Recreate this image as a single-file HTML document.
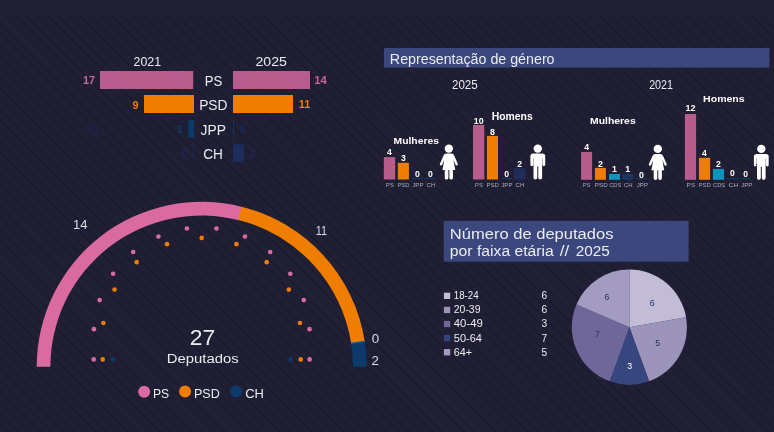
<!DOCTYPE html>
<html lang="pt"><head><meta charset="utf-8"><title>Deputados</title>
<style>
html,body{margin:0;padding:0;background:#211f33;}
body{width:774px;height:432px;overflow:hidden;font-family:"Liberation Sans", "DejaVu Sans", sans-serif;}
svg{display:block;position:absolute;left:0;top:0;}
text{white-space:pre;}
</style></head><body>
<svg width="774" height="432" viewBox="0 0 774 432" font-family='"Liberation Sans", "DejaVu Sans", sans-serif'>
<path d="M-458.42 0L-26.42 432M-450.43 0L-18.43 432M-442.44 0L-10.44 432M-434.45 0L-2.45 432M-426.46 0L5.54 432M-418.47 0L13.53 432M-410.48 0L21.52 432M-402.49 0L29.51 432M-394.50 0L37.50 432M-386.51 0L45.49 432M-378.52 0L53.48 432M-370.53 0L61.47 432M-362.54 0L69.46 432M-354.55 0L77.45 432M-346.56 0L85.44 432M-338.57 0L93.43 432M-330.58 0L101.42 432M-322.59 0L109.41 432M-314.60 0L117.40 432M-306.61 0L125.39 432M-298.62 0L133.38 432M-290.63 0L141.37 432M-282.64 0L149.36 432M-274.65 0L157.35 432M-266.66 0L165.34 432M-258.67 0L173.33 432M-250.68 0L181.32 432M-242.69 0L189.31 432M-234.70 0L197.30 432M-226.71 0L205.29 432M-218.72 0L213.28 432M-210.73 0L221.27 432M-202.74 0L229.26 432M-194.75 0L237.25 432M-186.76 0L245.24 432M-178.77 0L253.23 432M-170.78 0L261.22 432M-162.79 0L269.21 432M-154.80 0L277.20 432M-146.81 0L285.19 432M-138.82 0L293.18 432M-130.83 0L301.17 432M-122.84 0L309.16 432M-114.85 0L317.15 432M-106.86 0L325.14 432M-98.87 0L333.13 432M-90.88 0L341.12 432M-82.89 0L349.11 432M-74.90 0L357.10 432M-66.91 0L365.09 432M-58.92 0L373.08 432M-50.93 0L381.07 432M-42.94 0L389.06 432M-34.95 0L397.05 432M-26.96 0L405.04 432M-18.97 0L413.03 432M-10.98 0L421.02 432M-2.99 0L429.01 432M5.00 0L437.00 432M12.99 0L444.99 432M20.98 0L452.98 432M28.97 0L460.97 432M36.96 0L468.96 432M44.95 0L476.95 432M52.94 0L484.94 432M60.93 0L492.93 432M68.92 0L500.92 432M76.91 0L508.91 432M84.90 0L516.90 432M92.89 0L524.89 432M100.88 0L532.88 432M108.87 0L540.87 432M116.86 0L548.86 432M124.85 0L556.85 432M132.84 0L564.84 432M140.83 0L572.83 432M148.82 0L580.82 432M156.81 0L588.81 432M164.80 0L596.80 432M172.79 0L604.79 432M180.78 0L612.78 432M188.77 0L620.77 432M196.76 0L628.76 432M204.75 0L636.75 432M212.74 0L644.74 432M220.73 0L652.73 432M228.72 0L660.72 432M236.71 0L668.71 432M244.70 0L676.70 432M252.69 0L684.69 432M260.68 0L692.68 432M268.67 0L700.67 432M276.66 0L708.66 432M284.65 0L716.65 432M292.64 0L724.64 432M300.63 0L732.63 432M308.62 0L740.62 432M316.61 0L748.61 432M324.60 0L756.60 432M332.59 0L764.59 432M340.58 0L772.58 432M348.57 0L780.57 432M356.56 0L788.56 432M364.55 0L796.55 432M372.54 0L804.54 432M380.53 0L812.53 432M388.52 0L820.52 432M396.51 0L828.51 432M404.50 0L836.50 432M412.49 0L844.49 432M420.48 0L852.48 432M428.47 0L860.47 432M436.46 0L868.46 432M444.45 0L876.45 432M452.44 0L884.44 432M460.43 0L892.43 432M468.42 0L900.42 432M476.41 0L908.41 432M484.40 0L916.40 432M492.39 0L924.39 432M500.38 0L932.38 432M508.37 0L940.37 432M516.36 0L948.36 432M524.35 0L956.35 432M532.34 0L964.34 432M540.33 0L972.33 432M548.32 0L980.32 432M556.31 0L988.31 432M564.30 0L996.30 432M572.29 0L1004.29 432M580.28 0L1012.28 432M588.27 0L1020.27 432M596.26 0L1028.26 432M604.25 0L1036.25 432M612.24 0L1044.24 432M620.23 0L1052.23 432M628.22 0L1060.22 432M636.21 0L1068.21 432M644.20 0L1076.20 432M652.19 0L1084.19 432M660.18 0L1092.18 432M668.17 0L1100.17 432M676.16 0L1108.16 432M684.15 0L1116.15 432M692.14 0L1124.14 432M700.13 0L1132.13 432M708.12 0L1140.12 432M716.11 0L1148.11 432M724.10 0L1156.10 432M732.09 0L1164.09 432M740.08 0L1172.08 432M748.07 0L1180.07 432M756.06 0L1188.06 432M764.05 0L1196.05 432M772.04 0L1204.04 432M780.03 0L1212.03 432M788.02 0L1220.02 432" stroke="#1f2342" stroke-width="0.75" fill="none" opacity="1"/>
<path d="M-439.83 16L-23.83 432M-429.00 16L-13.00 432M-418.17 16L-2.17 432M-407.34 16L8.66 432M-396.51 16L19.49 432M-385.68 16L30.32 432M-374.85 16L41.15 432M-364.02 16L51.98 432M-353.19 16L62.81 432M-342.36 16L73.64 432M-331.53 16L84.47 432M-320.70 16L95.30 432M-309.87 16L106.13 432M-299.04 16L116.96 432M-288.21 16L127.79 432M-277.38 16L138.62 432M-266.55 16L149.45 432M-255.72 16L160.28 432M-244.89 16L171.11 432M-234.06 16L181.94 432M-223.23 16L192.77 432M-212.40 16L203.60 432M-201.57 16L214.43 432M-190.74 16L225.26 432M-179.91 16L236.09 432M-169.08 16L246.92 432M-158.25 16L257.75 432M-147.42 16L268.58 432M-136.59 16L279.41 432M-125.76 16L290.24 432M-114.93 16L301.07 432M-104.10 16L311.90 432M-93.27 16L322.73 432M-82.44 16L333.56 432M-71.61 16L344.39 432M-60.78 16L355.22 432M-49.95 16L366.05 432M-39.12 16L376.88 432M-28.29 16L387.71 432M-17.46 16L398.54 432M-6.63 16L409.37 432M4.20 16L420.20 432M15.03 16L431.03 432M25.86 16L441.86 432M36.69 16L452.69 432M47.52 16L463.52 432M58.35 16L474.35 432M69.18 16L485.18 432M80.01 16L496.01 432M90.84 16L506.84 432M101.67 16L517.67 432M112.50 16L528.50 432M123.33 16L539.33 432M134.16 16L550.16 432M144.99 16L560.99 432M155.82 16L571.82 432M166.65 16L582.65 432M177.48 16L593.48 432M188.31 16L604.31 432M199.14 16L615.14 432M209.97 16L625.97 432M220.80 16L636.80 432M231.63 16L647.63 432M242.46 16L658.46 432M253.29 16L669.29 432M264.12 16L680.12 432M274.95 16L690.95 432M285.78 16L701.78 432M296.61 16L712.61 432M307.44 16L723.44 432M318.27 16L734.27 432M329.10 16L745.10 432M339.93 16L755.93 432M350.76 16L766.76 432M361.59 16L777.59 432M372.42 16L788.42 432M383.25 16L799.25 432M394.08 16L810.08 432M404.91 16L820.91 432M415.74 16L831.74 432M426.57 16L842.57 432M437.40 16L853.40 432M448.23 16L864.23 432M459.06 16L875.06 432M469.89 16L885.89 432M480.72 16L896.72 432M491.55 16L907.55 432M502.38 16L918.38 432M513.21 16L929.21 432M524.04 16L940.04 432M534.87 16L950.87 432M545.70 16L961.70 432M556.53 16L972.53 432M567.36 16L983.36 432M578.19 16L994.19 432M589.02 16L1005.02 432M599.85 16L1015.85 432M610.68 16L1026.68 432M621.51 16L1037.51 432M632.34 16L1048.34 432M643.17 16L1059.17 432M654.00 16L1070.00 432M664.83 16L1080.83 432M675.66 16L1091.66 432M686.49 16L1102.49 432M697.32 16L1113.32 432M708.15 16L1124.15 432M718.98 16L1134.98 432M729.81 16L1145.81 432M740.64 16L1156.64 432M751.47 16L1167.47 432M762.30 16L1178.30 432M773.13 16L1189.13 432M783.96 16L1199.96 432M794.79 16L1210.79 432M805.62 16L1221.62 432" stroke="#171627" stroke-width="0.85" fill="none" opacity="1"/>
<rect x="100.00" y="71.00" width="93.20" height="18.00" fill="#d96ba1" fill-opacity="0.82"/>
<rect x="233.00" y="71.00" width="77.00" height="18.00" fill="#d96ba1" fill-opacity="0.82"/>
<rect x="144.00" y="95.00" width="50.00" height="18.00" fill="#ef7d00"/>
<rect x="233.00" y="95.00" width="60.00" height="18.00" fill="#ef7d00"/>
<rect x="188.30" y="120.00" width="6.00" height="17.80" fill="#0c3a68"/>
<rect x="233.00" y="120.00" width="0.80" height="18.00" fill="#0c3a68"/>
<rect x="193.20" y="144.50" width="0.80" height="17.30" fill="#1e2c5c"/>
<rect x="233.00" y="144.30" width="11.00" height="17.50" fill="#1e2c5c"/>
<text x="133.49" y="65.80" font-size="13.55" fill="#ebebf2" textLength="27.61" lengthAdjust="spacingAndGlyphs">2021</text>
<text x="255.49" y="66.10" font-size="13.55" fill="#ebebf2" textLength="31.41" lengthAdjust="spacingAndGlyphs">2025</text>
<text x="204.77" y="85.90" font-size="14.39" fill="#ebebf2" textLength="17.66" lengthAdjust="spacingAndGlyphs">PS</text>
<text x="199.16" y="110.00" font-size="14.53" fill="#ebebf2" textLength="28.37" lengthAdjust="spacingAndGlyphs">PSD</text>
<text x="200.56" y="135.00" font-size="14.66" fill="#ebebf2" textLength="25.38" lengthAdjust="spacingAndGlyphs">JPP</text>
<text x="203.26" y="159.40" font-size="14.66" fill="#ebebf2" textLength="19.68" lengthAdjust="spacingAndGlyphs">CH</text>
<text x="95.14" y="83.90" font-size="10.89" fill="#c9659b" text-anchor="end" font-weight="700">17</text>
<text x="314.32" y="84.30" font-size="11.31" fill="#c9659b" font-weight="700">14</text>
<text x="138.54" y="108.90" font-size="10.89" fill="#ef7d00" text-anchor="end" font-weight="700">9</text>
<text x="298.84" y="108.00" font-size="11.03" fill="#ef7d00" font-weight="700">11</text>
<text x="182.54" y="133.00" font-size="10.89" fill="#103a67" text-anchor="end" font-weight="700">1</text>
<text x="238.95" y="133.00" font-size="10.89" fill="#152b58" font-weight="700">0</text>
<text x="188.04" y="157.20" font-size="10.89" fill="#1c2852" text-anchor="end" font-weight="700">0</text>
<text x="249.75" y="157.20" font-size="10.89" fill="#1c2852" font-weight="700">2</text>
<text x="92.40" y="133.00" font-size="10.75" fill="#1d2246" text-anchor="middle" font-weight="700">50</text>
<path d="M36.70 366.80A165.0 165.0 0 0 1 242.45 206.91L239.07 220.19A151.3 151.3 0 0 0 50.40 366.80Z" fill="#d96ba1"/>
<path d="M241.62 206.70A165.0 165.0 0 0 1 364.76 341.56L351.22 343.65A151.3 151.3 0 0 0 238.30 219.99Z" fill="#ef7d00"/>
<path d="M364.62 340.70A165.0 165.0 0 0 1 364.89 342.41L351.34 344.44A151.3 151.3 0 0 0 351.10 342.87Z" fill="#0f5c8c"/>
<path d="M364.84 342.13A165.0 165.0 0 0 1 366.70 366.80L353.00 366.80A151.3 151.3 0 0 0 351.30 344.18Z" fill="#0e3a6b"/>
<text x="73.09" y="228.80" font-size="13.55" fill="#dcdce5" textLength="14.51" lengthAdjust="spacingAndGlyphs">14</text>
<text x="315.79" y="234.90" font-size="13.55" fill="#dcdce5" textLength="11.21" lengthAdjust="spacingAndGlyphs">11</text>
<text x="375.45" y="342.70" font-size="13.27" fill="#dcdce5" text-anchor="middle">0</text>
<text x="375.25" y="364.80" font-size="13.27" fill="#dcdce5" text-anchor="middle">2</text>
<text x="189.76" y="345.30" font-size="21.37" fill="#ebebf2" textLength="25.48" lengthAdjust="spacingAndGlyphs">27</text>
<text x="166.89" y="362.90" font-size="13.69" fill="#ebebf2" textLength="71.82" lengthAdjust="spacingAndGlyphs">Deputados</text>
<circle cx="93.75" cy="359.40" r="2.3" fill="#d96ba1"/>
<circle cx="93.89" cy="329.14" r="2.3" fill="#d96ba1"/>
<circle cx="99.66" cy="300.12" r="2.3" fill="#d96ba1"/>
<circle cx="113.10" cy="273.75" r="2.3" fill="#d96ba1"/>
<circle cx="133.19" cy="252.01" r="2.3" fill="#d96ba1"/>
<circle cx="158.42" cy="236.55" r="2.3" fill="#d96ba1"/>
<circle cx="186.90" cy="228.52" r="2.3" fill="#d96ba1"/>
<circle cx="216.50" cy="228.52" r="2.3" fill="#d96ba1"/>
<circle cx="244.98" cy="236.55" r="2.3" fill="#d96ba1"/>
<circle cx="270.21" cy="252.01" r="2.3" fill="#d96ba1"/>
<circle cx="290.30" cy="273.75" r="2.3" fill="#d96ba1"/>
<circle cx="303.74" cy="300.12" r="2.3" fill="#d96ba1"/>
<circle cx="309.51" cy="329.14" r="2.3" fill="#d96ba1"/>
<circle cx="309.65" cy="359.40" r="2.3" fill="#d96ba1"/>
<circle cx="102.70" cy="359.40" r="2.3" fill="#ef7d00"/>
<circle cx="103.42" cy="323.04" r="2.3" fill="#ef7d00"/>
<circle cx="114.56" cy="289.59" r="2.3" fill="#ef7d00"/>
<circle cx="136.68" cy="262.14" r="2.3" fill="#ef7d00"/>
<circle cx="167.01" cy="244.16" r="2.3" fill="#ef7d00"/>
<circle cx="201.70" cy="237.90" r="2.3" fill="#ef7d00"/>
<circle cx="236.39" cy="244.16" r="2.3" fill="#ef7d00"/>
<circle cx="266.72" cy="262.14" r="2.3" fill="#ef7d00"/>
<circle cx="288.84" cy="289.59" r="2.3" fill="#ef7d00"/>
<circle cx="299.98" cy="323.04" r="2.3" fill="#ef7d00"/>
<circle cx="300.70" cy="359.40" r="2.3" fill="#ef7d00"/>
<circle cx="112.7" cy="359.4" r="2.3" fill="#0e3a6b"/>
<circle cx="290.7" cy="359.4" r="2.3" fill="#0e3a6b"/>
<circle cx="144.2" cy="391.8" r="6" fill="#d96ba1"/>
<circle cx="185.1" cy="391.6" r="6" fill="#ef7d00"/>
<circle cx="236.1" cy="391.6" r="6" fill="#0e3a6b"/>
<text x="153.01" y="397.90" font-size="12.85" fill="#ebebf2" textLength="16.17" lengthAdjust="spacingAndGlyphs">PS</text>
<text x="193.91" y="397.90" font-size="12.85" fill="#ebebf2" textLength="25.87" lengthAdjust="spacingAndGlyphs">PSD</text>
<text x="245.21" y="397.90" font-size="12.85" fill="#ebebf2" textLength="18.77" lengthAdjust="spacingAndGlyphs">CH</text>
<rect x="384.00" y="48.00" width="385.40" height="19.60" fill="#3f4d87" fill-opacity="0.88"/>
<text x="389.85" y="63.80" font-size="15.08" fill="#ebebf2" textLength="164.71" lengthAdjust="spacingAndGlyphs">Representação de género</text>
<text x="451.94" y="89.40" font-size="11.87" fill="#ebebf2" textLength="25.81" lengthAdjust="spacingAndGlyphs">2025</text>
<text x="649.14" y="89.40" font-size="11.87" fill="#ebebf2" textLength="23.91" lengthAdjust="spacingAndGlyphs">2021</text>
<rect x="383.80" y="157.10" width="11.40" height="22.40" fill="#b85c8b"/>
<text x="389.50" y="155.10" font-size="8.66" font-weight="700" fill="#ffffff" text-anchor="middle">4</text>
<rect x="397.80" y="162.80" width="11.10" height="16.70" fill="#ef7d00"/>
<text x="403.35" y="160.90" font-size="8.66" font-weight="700" fill="#ffffff" text-anchor="middle">3</text>
<rect x="412.00" y="177.90" width="11.00" height="1.00" fill="#123f6e"/>
<text x="417.50" y="177.40" font-size="8.66" font-weight="700" fill="#ffffff" text-anchor="middle">0</text>
<rect x="425.00" y="177.90" width="11.00" height="1.00" fill="#123f6e"/>
<text x="430.50" y="177.40" font-size="8.66" font-weight="700" fill="#ffffff" text-anchor="middle">0</text>
<text x="386.12" y="186.80" font-size="6.15" fill="#a9a9c0" textLength="7.57" lengthAdjust="spacingAndGlyphs">PS</text>
<text x="397.42" y="186.80" font-size="6.15" fill="#a9a9c0" textLength="12.17" lengthAdjust="spacingAndGlyphs">PSD</text>
<text x="412.32" y="186.80" font-size="6.15" fill="#a9a9c0" textLength="11.17" lengthAdjust="spacingAndGlyphs">JPP</text>
<text x="426.62" y="186.80" font-size="6.15" fill="#a9a9c0" textLength="8.57" lengthAdjust="spacingAndGlyphs">CH</text>
<text x="393.61" y="144.00" font-size="9.78" fill="#ffffff" textLength="45.29" lengthAdjust="spacingAndGlyphs" font-weight="700">Mulheres</text>
<rect x="473.00" y="125.00" width="11.30" height="54.50" fill="#b85c8b"/>
<text x="478.65" y="123.60" font-size="8.80" font-weight="700" fill="#ffffff" text-anchor="middle">10</text>
<rect x="486.90" y="135.90" width="11.10" height="43.60" fill="#ef7d00"/>
<text x="492.45" y="134.60" font-size="8.80" font-weight="700" fill="#ffffff" text-anchor="middle">8</text>
<rect x="501.10" y="177.90" width="10.90" height="1.00" fill="#123f6e"/>
<text x="506.55" y="177.40" font-size="8.66" font-weight="700" fill="#ffffff" text-anchor="middle">0</text>
<rect x="514.00" y="168.20" width="11.20" height="11.30" fill="#1f2d5e"/>
<text x="519.60" y="167.00" font-size="8.66" font-weight="700" fill="#ffffff" text-anchor="middle">2</text>
<text x="475.12" y="186.80" font-size="6.15" fill="#a9a9c0" textLength="7.57" lengthAdjust="spacingAndGlyphs">PS</text>
<text x="486.42" y="186.80" font-size="6.15" fill="#a9a9c0" textLength="12.37" lengthAdjust="spacingAndGlyphs">PSD</text>
<text x="501.32" y="186.80" font-size="6.15" fill="#a9a9c0" textLength="11.17" lengthAdjust="spacingAndGlyphs">JPP</text>
<text x="515.62" y="186.80" font-size="6.15" fill="#a9a9c0" textLength="8.57" lengthAdjust="spacingAndGlyphs">CH</text>
<text x="491.70" y="119.80" font-size="10.06" fill="#ffffff" textLength="41.00" lengthAdjust="spacingAndGlyphs" font-weight="700">Homens</text>
<rect x="581.10" y="151.90" width="11.00" height="27.90" fill="#b85c8b"/>
<text x="586.60" y="150.10" font-size="8.80" font-weight="700" fill="#ffffff" text-anchor="middle">4</text>
<rect x="594.90" y="167.90" width="11.00" height="11.90" fill="#ef7d00"/>
<text x="600.40" y="166.60" font-size="8.80" font-weight="700" fill="#ffffff" text-anchor="middle">2</text>
<rect x="609.00" y="174.00" width="11.00" height="5.80" fill="#0d93be"/>
<text x="614.50" y="172.40" font-size="8.80" font-weight="700" fill="#ffffff" text-anchor="middle">1</text>
<rect x="622.20" y="174.00" width="10.80" height="5.80" fill="#16366a"/>
<text x="627.60" y="172.40" font-size="8.80" font-weight="700" fill="#ffffff" text-anchor="middle">1</text>
<rect x="636.00" y="178.20" width="10.80" height="1.00" fill="#123f6e"/>
<text x="641.40" y="177.90" font-size="8.80" font-weight="700" fill="#ffffff" text-anchor="middle">0</text>
<text x="582.82" y="187.00" font-size="5.87" fill="#a9a9c0" textLength="7.55" lengthAdjust="spacingAndGlyphs">PS</text>
<text x="594.82" y="187.00" font-size="5.87" fill="#a9a9c0" textLength="12.85" lengthAdjust="spacingAndGlyphs">PSD</text>
<text x="609.22" y="187.00" font-size="5.87" fill="#a9a9c0" textLength="12.15" lengthAdjust="spacingAndGlyphs">CDS</text>
<text x="624.02" y="187.00" font-size="5.87" fill="#a9a9c0" textLength="8.65" lengthAdjust="spacingAndGlyphs">CH</text>
<text x="636.82" y="187.00" font-size="5.87" fill="#a9a9c0" textLength="11.15" lengthAdjust="spacingAndGlyphs">JPP</text>
<text x="590.01" y="124.20" font-size="9.78" fill="#ffffff" textLength="45.69" lengthAdjust="spacingAndGlyphs" font-weight="700">Mulheres</text>
<rect x="684.90" y="114.00" width="11.20" height="65.80" fill="#b85c8b"/>
<text x="690.50" y="111.00" font-size="9.08" font-weight="700" fill="#ffffff" text-anchor="middle">12</text>
<rect x="698.90" y="157.80" width="11.20" height="22.00" fill="#ef7d00"/>
<text x="704.50" y="156.20" font-size="8.66" font-weight="700" fill="#ffffff" text-anchor="middle">4</text>
<rect x="712.90" y="168.90" width="11.20" height="10.90" fill="#0d93be"/>
<text x="718.50" y="166.80" font-size="8.66" font-weight="700" fill="#ffffff" text-anchor="middle">2</text>
<rect x="726.90" y="178.20" width="11.10" height="1.00" fill="#123f6e"/>
<text x="732.45" y="176.00" font-size="8.52" font-weight="700" fill="#ffffff" text-anchor="middle">0</text>
<rect x="740.30" y="178.20" width="10.80" height="1.00" fill="#123f6e"/>
<text x="745.70" y="176.60" font-size="8.52" font-weight="700" fill="#ffffff" text-anchor="middle">0</text>
<text x="686.62" y="187.00" font-size="5.87" fill="#a9a9c0" textLength="8.65" lengthAdjust="spacingAndGlyphs">PS</text>
<text x="698.72" y="187.00" font-size="5.87" fill="#a9a9c0" textLength="12.05" lengthAdjust="spacingAndGlyphs">PSD</text>
<text x="713.02" y="187.00" font-size="5.87" fill="#a9a9c0" textLength="12.15" lengthAdjust="spacingAndGlyphs">CDS</text>
<text x="728.62" y="187.00" font-size="5.87" fill="#a9a9c0" textLength="9.55" lengthAdjust="spacingAndGlyphs">CH</text>
<text x="741.02" y="187.00" font-size="5.87" fill="#a9a9c0" textLength="11.55" lengthAdjust="spacingAndGlyphs">JPP</text>
<text x="703.10" y="102.20" font-size="9.92" fill="#ffffff" textLength="41.59" lengthAdjust="spacingAndGlyphs" font-weight="700">Homens</text>
<g transform="translate(448.85 144.40) scale(1.0000)" fill="#ffffff"><circle cx="0" cy="4.2" r="4.2"/><path d="M-2.6 9.2 Q-4.6 9.2 -5.3 11.2 L-8.9 19.3 Q-9.3 20.6 -8.2 21 Q-7.2 21.3 -6.7 20.3 L-4.6 15.6 L-6.4 25.6 L-4.1 25.6 L-4.1 33.6 Q-4.1 35.2 -2.3 35.2 Q-0.5 35.2 -0.5 33.6 L-0.5 25.6 L0.5 25.6 L0.5 33.6 Q0.5 35.2 2.3 35.2 Q4.1 35.2 4.1 33.6 L4.1 25.6 L6.4 25.6 L4.6 15.6 L6.7 20.3 Q7.2 21.3 8.2 21 Q9.3 20.6 8.9 19.3 L5.3 11.2 Q4.6 9.2 2.6 9.2 Z"/></g>
<g transform="translate(537.80 144.40) scale(1.0000)" fill="#ffffff"><circle cx="0" cy="4.2" r="4.2"/><path d="M-4.6 9.2 Q-7.4 9.2 -7.4 12 L-7.4 20.4 Q-7.4 21.8 -6 21.8 Q-4.6 21.8 -4.6 20.4 L-4.6 13.5 L-4.3 13.5 L-4.3 33.4 Q-4.3 35.2 -2.4 35.2 Q-0.5 35.2 -0.5 33.4 L-0.5 22 L0.5 22 L0.5 33.4 Q0.5 35.2 2.4 35.2 Q4.3 35.2 4.3 33.4 L4.3 13.5 L4.6 13.5 L4.6 20.4 Q4.6 21.8 6 21.8 Q7.4 21.8 7.4 20.4 L7.4 12 Q7.4 9.2 4.6 9.2 Z"/></g>
<g transform="translate(657.80 144.70) scale(1.0000)" fill="#ffffff"><circle cx="0" cy="4.2" r="4.2"/><path d="M-2.6 9.2 Q-4.6 9.2 -5.3 11.2 L-8.9 19.3 Q-9.3 20.6 -8.2 21 Q-7.2 21.3 -6.7 20.3 L-4.6 15.6 L-6.4 25.6 L-4.1 25.6 L-4.1 33.6 Q-4.1 35.2 -2.3 35.2 Q-0.5 35.2 -0.5 33.6 L-0.5 25.6 L0.5 25.6 L0.5 33.6 Q0.5 35.2 2.3 35.2 Q4.1 35.2 4.1 33.6 L4.1 25.6 L6.4 25.6 L4.6 15.6 L6.7 20.3 Q7.2 21.3 8.2 21 Q9.3 20.6 8.9 19.3 L5.3 11.2 Q4.6 9.2 2.6 9.2 Z"/></g>
<g transform="translate(761.30 144.70) scale(1.0000)" fill="#ffffff"><circle cx="0" cy="4.2" r="4.2"/><path d="M-4.6 9.2 Q-7.4 9.2 -7.4 12 L-7.4 20.4 Q-7.4 21.8 -6 21.8 Q-4.6 21.8 -4.6 20.4 L-4.6 13.5 L-4.3 13.5 L-4.3 33.4 Q-4.3 35.2 -2.4 35.2 Q-0.5 35.2 -0.5 33.4 L-0.5 22 L0.5 22 L0.5 33.4 Q0.5 35.2 2.4 35.2 Q4.3 35.2 4.3 33.4 L4.3 13.5 L4.6 13.5 L4.6 20.4 Q4.6 21.8 6 21.8 Q7.4 21.8 7.4 20.4 L7.4 12 Q7.4 9.2 4.6 9.2 Z"/></g>
<rect x="443.70" y="220.90" width="244.90" height="40.80" fill="#3f4d87" fill-opacity="0.88"/>
<text x="449.87" y="239.30" font-size="14.25" fill="#ebebf2" textLength="163.55" lengthAdjust="spacingAndGlyphs">Número de deputados</text>
<text x="449.86" y="256.00" font-size="14.53" fill="#ebebf2" textLength="103.97" lengthAdjust="spacingAndGlyphs">por faixa etária</text>
<text x="559.86" y="256.00" font-size="14.53" fill="#ebebf2" textLength="9.47" lengthAdjust="spacingAndGlyphs">//</text>
<text x="575.76" y="256.00" font-size="14.53" fill="#ebebf2" textLength="34.07" lengthAdjust="spacingAndGlyphs">2025</text>
<rect x="443.90" y="292.70" width="6.30" height="6.30" fill="#c4bcd8"/>
<text x="453.79" y="299.20" font-size="10.20" fill="#ececf2" textLength="24.81" lengthAdjust="spacingAndGlyphs">18-24</text>
<text x="544.45" y="299.20" font-size="10.20" fill="#ececf2" text-anchor="middle">6</text>
<rect x="443.90" y="306.80" width="6.30" height="6.30" fill="#9d93bb"/>
<text x="453.79" y="313.30" font-size="10.20" fill="#ececf2" textLength="26.71" lengthAdjust="spacingAndGlyphs">20-39</text>
<text x="544.45" y="313.30" font-size="10.20" fill="#ececf2" text-anchor="middle">6</text>
<rect x="443.90" y="320.90" width="6.30" height="6.30" fill="#6f6899"/>
<text x="453.79" y="327.40" font-size="10.20" fill="#ececf2" textLength="29.11" lengthAdjust="spacingAndGlyphs">40-49</text>
<text x="544.45" y="327.40" font-size="10.20" fill="#ececf2" text-anchor="middle">3</text>
<rect x="443.90" y="335.00" width="6.30" height="6.30" fill="#35437b"/>
<text x="453.79" y="341.50" font-size="10.20" fill="#ececf2" textLength="28.11" lengthAdjust="spacingAndGlyphs">50-64</text>
<text x="544.45" y="341.50" font-size="10.20" fill="#ececf2" text-anchor="middle">7</text>
<rect x="443.90" y="349.10" width="6.30" height="6.30" fill="#a39bc0"/>
<text x="453.79" y="355.60" font-size="10.20" fill="#ececf2" textLength="18.31" lengthAdjust="spacingAndGlyphs">64+</text>
<text x="544.45" y="355.60" font-size="10.20" fill="#ececf2" text-anchor="middle">5</text>
<path d="M629.4 327.2L629.40 269.60A57.6 57.6 0 0 1 686.12 317.20Z" fill="#cfc8e4" fill-opacity="0.93"/>
<path d="M629.4 327.2L686.12 317.20A57.6 57.6 0 0 1 649.10 381.33Z" fill="#a69dc5" fill-opacity="0.93"/>
<path d="M629.4 327.2L649.10 381.33A57.6 57.6 0 0 1 609.70 381.33Z" fill="#3a4985" fill-opacity="0.93"/>
<path d="M629.4 327.2L609.70 381.33A57.6 57.6 0 0 1 576.51 304.39Z" fill="#756da1" fill-opacity="0.93"/>
<path d="M629.4 327.2L576.51 304.39A57.6 57.6 0 0 1 629.40 269.60Z" fill="#aea5cc" fill-opacity="0.93"/>
<text x="652.20" y="306.00" font-size="8.8" fill="#283263" text-anchor="middle">6</text>
<text x="657.80" y="346.00" font-size="8.8" fill="#283263" text-anchor="middle">5</text>
<text x="629.70" y="368.50" font-size="8.8" fill="#ffffff" text-anchor="middle">3</text>
<text x="597.50" y="337.20" font-size="8.8" fill="#283263" text-anchor="middle">7</text>
<text x="606.90" y="300.10" font-size="8.8" fill="#283263" text-anchor="middle">6</text>
</svg>
</body></html>
